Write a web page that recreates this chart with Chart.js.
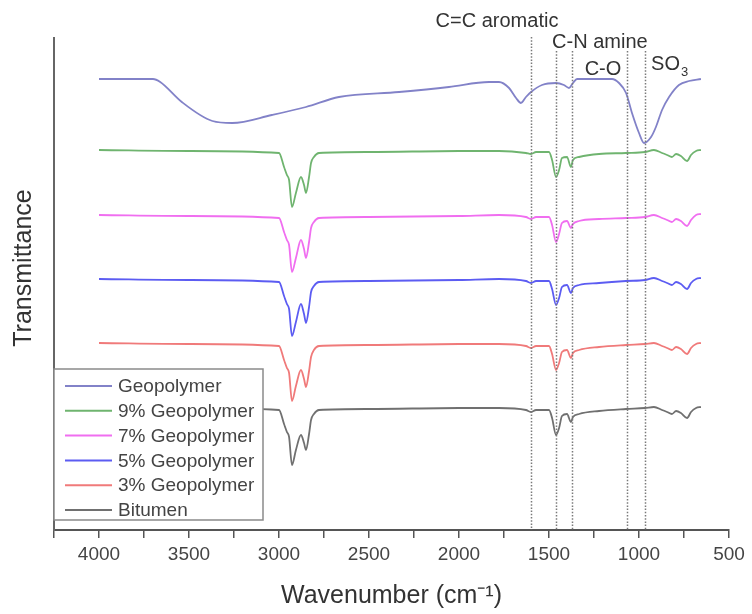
<!DOCTYPE html>
<html>
<head>
<meta charset="utf-8">
<script src="https://cdn.jsdelivr.net/npm/chart.js@4.4.1/dist/chart.umd.min.js"></script>
<style>
  body { margin: 0; background: #fff; }
  canvas { display: block; }
</style>
</head>
<body>
<canvas id="myChart" width="752" height="614"></canvas>
<script>
// wavenumbers (cm-1) shared by the bitumen based spectra
const wavenumbers = [4000, 3500, 3000, 2972, 2956, 2944, 2928, 2906, 2878, 2861, 2850, 2833, 2822, 2806, 2778,
  2500, 2000, 1778, 1628, 1600, 1572, 1500, 1483, 1461, 1444, 1428, 1400, 1378, 1367, 1333, 1222,
  1072, 967, 917, 872, 844, 817, 794, 767, 733, 711, 683, 656];

// transmittance, arbitrary units (curves are stacked)
const geo9 = [380, 379, 377, 363, 355, 350, 323, 337, 353, 345, 337, 353, 367, 373, 377,
  378, 379, 379, 377, 376, 378, 378, 370, 353, 360, 372, 373, 363, 370, 373, 376,
  377, 378, 380, 377, 375, 373, 376, 374, 369, 375, 379, 380];
const geo7 = [315, 314, 312, 298, 290, 285, 258, 272, 290, 281, 272, 288, 302, 308, 312,
  313, 314, 315, 313, 311, 313, 313, 305, 288, 296, 307, 309, 302, 306, 309, 311,
  312, 313, 315, 312, 310, 308, 311, 309, 304, 310, 315, 316];
const geo5 = [251, 250, 248, 234, 226, 221, 194, 208, 226, 216, 207, 223, 238, 244, 248,
  249, 250, 251, 249, 247, 249, 249, 241, 225, 232, 243, 245, 237, 242, 245, 247,
  249, 250, 252, 249, 247, 245, 248, 246, 241, 247, 251, 252];
const geo3 = [187, 186, 184, 170, 162, 157, 129, 144, 160, 151, 143, 159, 173, 180, 184,
  185, 186, 186, 184, 182, 184, 184, 176, 160, 167, 178, 180, 172, 177, 180, 183,
  185, 186, 187, 184, 182, 180, 183, 181, 176, 182, 186, 187];
const bitumen = [122, 122, 120, 106, 98, 93, 65, 80, 95, 87, 80, 96, 110, 116, 120,
  121, 122, 122, 120, 118, 120, 120, 112, 95, 102, 114, 116, 108, 113, 116, 119,
  121, 122, 123, 120, 118, 116, 119, 117, 112, 118, 122, 123];

// pure geopolymer spectrum
const geoWavenumbers = [4000, 3700, 3660, 3540, 3370, 3260, 3040, 2850, 2667, 2333, 2056, 1833, 1778, 1722,
  1683, 1656, 1628, 1600, 1539, 1461, 1417, 1389, 1367, 1344, 1150, 1111, 1072, 1039, 1000, 972,
  933, 906, 872, 833, 778, 722, 656];
const geopolymer = [451, 451, 448, 428, 409, 407, 415, 423, 433, 438, 443, 448, 448, 442,
  432, 427, 433, 438, 445, 447, 445, 442, 447, 451, 451, 447, 437, 417, 397, 387,
  393, 403, 420, 433, 445, 449, 451];

const seriesNames = ['Geopolymer', '9% Geopolymer', '7% Geopolymer', '5% Geopolymer', '3% Geopolymer', 'Bitumen'];
const seriesColors = ['#8282c8', '#6fb46f', '#f06ef0', '#5c5cf2', '#f07a7a', '#707070'];

// band positions marked with dotted lines
const bandLines = [1600, 1460, 1375, 1065, 965];

const xTicks = [4000, 3500, 3000, 2500, 2000, 1500, 1000, 500];

const toPoints = (xs, ys) => xs.map((x, i) => ({x: x, y: ys[i]}));
const allData = [
  toPoints(geoWavenumbers, geopolymer),
  toPoints(wavenumbers, geo9),
  toPoints(wavenumbers, geo7),
  toPoints(wavenumbers, geo5),
  toPoints(wavenumbers, geo3),
  toPoints(wavenumbers, bitumen)
];

const font = 'Liberation Sans, Arial, sans-serif';
Chart.defaults.font.family = font;
Chart.defaults.color = '#444';

// dotted band lines + their labels
const bandPlugin = {
  id: 'bands',
  afterDatasetsDraw(chart) {
    const {ctx, scales: {x}, chartArea} = chart;
    ctx.save();
    ctx.strokeStyle = '#7a7a7a';
    ctx.lineWidth = 1.5;
    ctx.setLineDash([1.5, 1.7]);
    bandLines.forEach((w, i) => {
      const px = Math.round(x.getPixelForValue(w)) + 0.5;
      ctx.beginPath();
      ctx.moveTo(px, i === 0 ? 37 : 51);
      ctx.lineTo(px, chartArea.bottom);
      ctx.stroke();
    });
    ctx.setLineDash([]);
    ctx.fillStyle = '#333';
    ctx.font = '20px ' + font;
    ctx.textBaseline = 'alphabetic';
    ctx.textAlign = 'center';
    ctx.fillText('C=C aromatic', x.getPixelForValue(1789), 27);
    ctx.textAlign = 'left';
    ctx.fillText('C-N amine', x.getPixelForValue(1483), 48);
    ctx.textAlign = 'center';
    ctx.fillText('C-O', x.getPixelForValue(1200), 75);
    ctx.textAlign = 'left';
    const sx = x.getPixelForValue(933);
    ctx.fillText('SO', sx, 70);
    const sw = ctx.measureText('SO').width;
    ctx.font = '13px ' + font;
    ctx.fillText('3', sx + sw + 1, 76);
    ctx.restore();
  }
};

// legend box drawn over the curves, plus the y title (sits a bit above centre)
const boxLegend = {
  id: 'boxLegend',
  afterDraw(chart) {
    const {ctx, chartArea} = chart;
    const left = chartArea.left, top = 369, w = 209, h = 151;
    ctx.save();
    ctx.fillStyle = '#fff';
    ctx.fillRect(left, top, w, h);
    ctx.strokeStyle = '#8a8a8a';
    ctx.lineWidth = 1.5;
    ctx.strokeRect(left, top, w, h);
    ctx.font = '19px ' + font;
    ctx.textBaseline = 'middle';
    ctx.textAlign = 'left';
    chart.data.datasets.forEach((ds, i) => {
      const y = top + 17 + i * 24.8;
      ctx.strokeStyle = ds.borderColor;
      ctx.lineWidth = 2;
      ctx.beginPath();
      ctx.moveTo(left + 11, y);
      ctx.lineTo(left + 58, y);
      ctx.stroke();
      ctx.fillStyle = '#444';
      ctx.fillText(ds.label, left + 64, y + 1);
    });

    ctx.translate(24, 268);
    ctx.rotate(-Math.PI / 2);
    ctx.textAlign = 'center';
    ctx.fillStyle = '#333';
    ctx.font = '25px ' + font;
    ctx.fillText('Transmittance', 0, 0);
    ctx.restore();
  }
};

const config = {
  type: 'line',
  data: {
    datasets: seriesNames.map((name, i) => ({
      label: name,
      data: allData[i],
      borderColor: seriesColors[i],
      borderWidth: 1.8,
      pointRadius: 0,
      cubicInterpolationMode: 'monotone',
      fill: false
    }))
  },
  options: {
    responsive: false,
    animation: false,
    devicePixelRatio: 1,
    layout: { padding: { top: 38, right: 23, left: 0, bottom: 0 } },
    plugins: {
      legend: { display: false },
      tooltip: { enabled: false }
    },
    scales: {
      x: {
        type: 'linear',
        reverse: true,
        min: 500,
        max: 4250,
        afterFit: s => { s.height = 84; },
        ticks: {
          stepSize: 250,
          autoSkip: false,
          maxRotation: 0,
          padding: 5,
          color: '#444',
          font: { size: 19 },
          callback: v => (xTicks.includes(v) ? String(v) : '')
        },
        grid: { drawOnChartArea: false, drawTicks: true, tickLength: 8, color: '#555', lineWidth: 1.5 },
        border: { color: '#555', width: 2 },
        title: {
          display: true,
          text: 'Wavenumber (cm\u207B\u00B9)',
          color: '#333',
          font: { size: 25 },
          padding: { top: 0, bottom: 3 }
        }
      },
      y: {
        min: 0,
        max: 492,
        afterFit: s => { s.width = 54; },
        ticks: { display: false },
        grid: { display: false },
        border: { color: '#666', width: 2 }
      }
    }
  },
  plugins: [bandPlugin, boxLegend]
};

const myChart = new Chart(document.getElementById('myChart'), config);
</script>
</body>
</html>
